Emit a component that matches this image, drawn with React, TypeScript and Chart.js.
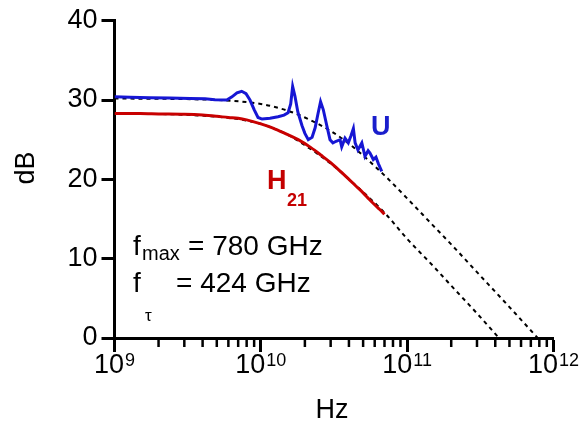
import React, { useEffect, useRef } from "react";
import { Chart, registerables } from "chart.js";

Chart.register(...registerables);

// ---- data ----
const uFreq = [
  1.0e9, 1.276e9, 1.75e9, 2.39e9, 3.28e9, 4.16e9, 4.86e9, 5.85e9, 6.35e9, 6.87e9,
  7.4e9, 7.92e9, 8.43e9, 9.0e9, 9.57e9, 1.02e10, 1.156e10, 1.31e10, 1.44e10, 1.535e10,
  1.6e10, 1.65e10, 1.71e10, 1.79e10, 1.91e10, 2.0e10, 2.11e10, 2.24e10, 2.35e10, 2.46e10,
  2.56e10, 2.67e10, 2.83e10, 2.97e10, 3.11e10, 3.27e10, 3.48e10, 3.57e10, 3.76e10, 3.96e10,
  4.13e10, 4.29e10, 4.41e10, 4.61e10, 4.9e10, 5.15e10, 5.41e10, 5.57e10, 5.87e10, 6.12e10,
  6.35e10, 6.7e10,
];
const uDb = [
  30.4, 30.35, 30.3, 30.25, 30.2, 30.15, 30.05, 30.0, 30.4, 30.9,
  31.1, 30.8, 30.0, 28.8, 27.8, 27.6, 27.7, 27.9, 28.1, 28.4,
  29.5, 31.7, 30.5, 28.5, 26.8, 25.8, 25.0, 25.3, 26.5, 28.3,
  29.8, 28.8, 26.7, 25.0, 24.6, 24.8, 25.0, 24.1, 25.2, 24.6,
  25.5, 26.4, 24.6, 23.7, 24.6, 22.9, 23.6, 23.3, 22.5, 22.8,
  22.0, 21.0,
];

const hFreq = [
  1e9, 1.5e9, 2e9, 3e9, 4e9, 5e9, 6e9, 7e9, 8e9, 1e10, 1.2e10, 1.5e10, 1.8e10, 2.2e10,
  2.6e10, 3e10, 3.5e10, 4e10, 4.5e10, 5e10, 5.5e10, 6e10, 6.5e10, 7e10,
];
const hDb = [
  28.3, 28.3, 28.25, 28.2, 28.1, 27.95, 27.8, 27.7, 27.5, 27.0, 26.5, 25.7, 25.0, 24.0,
  23.0, 22.1, 21.0, 20.0, 19.1, 18.3, 17.5, 16.8, 16.2, 15.6,
];

const uFitFreq = [1e9, 5e9, 1e10, 1.5e10, 2e10, 3e10, 4e10, 5e10, 7e10, 1e11, 1.5e11, 2e11, 3e11, 5e11, 7.8e11];
const uFitDb = [30.2, 30.0, 29.5, 28.7, 27.8, 26.1, 24.5, 23.0, 20.5, 17.6, 14.2, 11.8, 8.3, 3.9, 0];

const hFitFreq = [1e9, 3e9, 5e9, 7e9, 1e10, 1.5e10, 2e10, 3e10, 4e10, 5e10, 7e10, 1e11, 1.5e11, 2e11, 3e11, 4.24e11];
const hFitDb = [28.3, 28.15, 27.9, 27.6, 27.0, 25.7, 24.3, 22.0, 20.0, 18.4, 15.8, 12.5, 9.1, 6.6, 3.1, 0];

const xMajorTicks = [1e9, 1e10, 1e11, 1e12];
const xTickExponents = ["9", "10", "11", "12"];
const minorDecades = [1e9, 1e10, 1e11];
const minorMultipliers = [2, 3, 4, 5, 6, 7, 8, 9];
const yTicks = [0, 10, 20, 30, 40];

const FONT = "'Liberation Sans', Arial, sans-serif";

const toPts = (xs: number[], ys: number[]) => xs.map((x, i) => ({ x, y: ys[i] }));

const annotPlugin = {
  id: "annot",
  afterDraw(chart: any) {
    const { ctx, chartArea, scales } = chart;
    const xs = scales.x;
    const bottom = chartArea.bottom;
    ctx.save();
    // minor ticks
    ctx.strokeStyle = "#000";
    ctx.lineWidth = 2.5;
    for (const d of minorDecades) {
      for (const m of minorMultipliers) {
        const px = xs.getPixelForValue(m * d);
        ctx.beginPath();
        ctx.moveTo(px, bottom);
        ctx.lineTo(px, bottom + 9);
        ctx.stroke();
      }
    }
    // x tick labels with superscripts
    ctx.fillStyle = "#000";
    ctx.textBaseline = "alphabetic";
    ctx.textAlign = "left";
    xMajorTicks.forEach((v, i) => {
      const px = xs.getPixelForValue(v);
      ctx.font = `27px ${FONT}`;
      const w1 = ctx.measureText("10").width;
      ctx.font = `18px ${FONT}`;
      const w2 = ctx.measureText(xTickExponents[i]).width;
      const start = px - (w1 + w2 + 1) / 2;
      ctx.font = `27px ${FONT}`;
      ctx.fillText("10", start, bottom + 35);
      ctx.font = `18px ${FONT}`;
      ctx.fillText(xTickExponents[i], start + w1 + 1, bottom + 28);
    });
    // axis titles
    ctx.font = `27px ${FONT}`;
    ctx.textAlign = "center";
    ctx.fillText("Hz", (chartArea.left + chartArea.right) / 2 - 2, 418);
    ctx.save();
    ctx.translate(27, 168);
    ctx.rotate(-Math.PI / 2);
    ctx.textBaseline = "middle";
    ctx.fillText("dB", 0, 0);
    ctx.restore();

    // series labels
    ctx.textAlign = "left";
    ctx.textBaseline = "alphabetic";
    ctx.fillStyle = "#1a1ecc";
    ctx.font = `bold 27px ${FONT}`;
    ctx.fillText("U", 371, 135);
    ctx.fillStyle = "#c40000";
    ctx.fillText("H", 267, 189);
    ctx.font = `bold 18px ${FONT}`;
    ctx.fillText("21", 287, 205.5);

    // fmax / ftau
    ctx.fillStyle = "#000";
    ctx.font = `28px ${FONT}`;
    ctx.fillText("f", 133, 255);
    ctx.fillText("= 780 GHz", 188, 255);
    ctx.font = `20px ${FONT}`;
    ctx.fillText("max", 142, 260);
    ctx.font = `28px ${FONT}`;
    ctx.fillText("f", 133, 291.5);
    ctx.fillText("= 424 GHz", 176, 291.5);
    ctx.font = `17px ${FONT}`;
    ctx.fillText("τ", 145, 321);
    ctx.restore();
  },
};

export default function App() {
  const ref = useRef<HTMLCanvasElement | null>(null);
  useEffect(() => {
    document.body.style.margin = "0";
    const canvas = ref.current;
    if (!canvas) return;
    const chart = new Chart(canvas, {
      type: "line",
      data: {
        datasets: [
          {
            data: toPts(uFreq, uDb),
            borderColor: "#1616d4",
            borderWidth: 3,
            pointRadius: 0,
            tension: 0,
          },
          {
            data: toPts(hFreq, hDb),
            borderColor: "#c80000",
            borderWidth: 3,
            pointRadius: 0,
            cubicInterpolationMode: "monotone",
          },
          {
            data: toPts(uFitFreq, uFitDb),
            borderColor: "#000",
            borderWidth: 2,
            borderDash: [4, 4],
            pointRadius: 0,
            cubicInterpolationMode: "monotone",
          },
          {
            data: toPts(hFitFreq, hFitDb),
            borderColor: "#000",
            borderWidth: 2,
            borderDash: [4, 4],
            pointRadius: 0,
            cubicInterpolationMode: "monotone",
          },
        ],
      },
      options: {
        animation: false,
        responsive: false,
        parsing: true,
        layout: { padding: { left: 67.5, right: 30.5, top: 20.7, bottom: 0 } },
        plugins: { legend: { display: false }, tooltip: { enabled: false } },
        scales: {
          x: {
            type: "logarithmic",
            min: 1e9,
            max: 1e12,
            afterBuildTicks: (s: any) => {
              s.ticks = xMajorTicks.map((v) => ({ value: v, major: true }));
            },
            afterFit: (s: any) => {
              s.height = 85;
            },
            ticks: { display: false },
            grid: { drawOnChartArea: false, tickLength: 14, tickWidth: 3, tickColor: "#000" },
            border: { color: "#000", width: 3 },
          },
          y: {
            type: "linear",
            min: 0,
            max: 40,
            afterBuildTicks: (s: any) => {
              s.ticks = yTicks.map((v) => ({ value: v }));
            },
            afterFit: (s: any) => {
              s.width = 47;
            },
            ticks: { color: "#000", padding: 4, font: { size: 27, family: FONT } },
            grid: { drawOnChartArea: false, tickLength: 13, tickWidth: 3, tickColor: "#000" },
            border: { color: "#000", width: 3 },
          },
        },
      },
      plugins: [annotPlugin],
    } as any);
    return () => chart.destroy();
  }, []);
  return (
    <div style={{ width: 584, height: 423 }}>
      <canvas ref={ref} width={584} height={423} style={{ display: "block" }} />
    </div>
  );
}
